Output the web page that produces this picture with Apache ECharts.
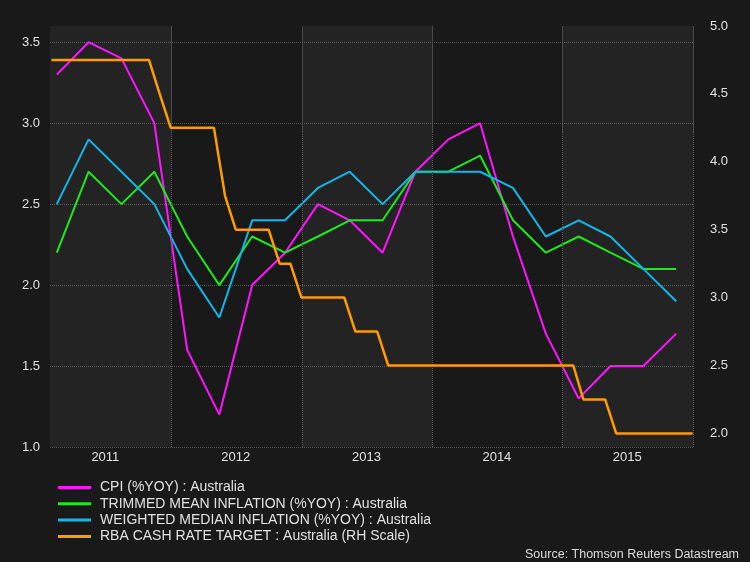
<!DOCTYPE html>
<html><head><meta charset="utf-8">
<script src="https://cdn.jsdelivr.net/npm/echarts@6/dist/echarts.min.js"></script>
<style>html,body{margin:0;padding:0;background:#191919}#c{width:750px;height:562px}</style>
</head><body><div id="c"></div>
<script>
const seriesNames = [
  'CPI (%YOY) : Australia',
  'TRIMMED MEAN INFLATION (%YOY) : Australia',
  'WEIGHTED MEDIAN INFLATION (%YOY) : Australia',
  'RBA CASH RATE TARGET : Australia (RH Scale)'
];
// quarterly series, plotted mid-quarter
const quarterDates = [
  '2011-02-15','2011-05-15','2011-08-15','2011-11-15',
  '2012-02-15','2012-05-15','2012-08-15','2012-11-15',
  '2013-02-15','2013-05-15','2013-08-15','2013-11-15',
  '2014-02-15','2014-05-15','2014-08-15','2014-11-15',
  '2015-02-15','2015-05-15','2015-08-15','2015-11-15'
];
const cpi            = [3.3,3.5,3.4,3.0, 1.6,1.2,2.0,2.2, 2.5,2.4,2.2,2.7, 2.9,3.0,2.3,1.7, 1.3,1.5,1.5,1.7];
const trimmedMean    = [2.2,2.7,2.5,2.7, 2.3,2.0,2.3,2.2, 2.3,2.4,2.4,2.7, 2.7,2.8,2.4,2.2, 2.3,2.2,2.1,2.1];
const weightedMedian = [2.5,2.9,2.7,2.5, 2.1,1.8,2.4,2.4, 2.6,2.7,2.5,2.7, 2.7,2.7,2.6,2.3, 2.4,2.3,2.1,1.9];
// monthly series, end-of-month values
const rateMonths = [
  '2011-01','2011-02','2011-03','2011-04','2011-05','2011-06','2011-07','2011-08','2011-09','2011-10','2011-11','2011-12',
  '2012-01','2012-02','2012-03','2012-04','2012-05','2012-06','2012-07','2012-08','2012-09','2012-10','2012-11','2012-12',
  '2013-01','2013-02','2013-03','2013-04','2013-05','2013-06','2013-07','2013-08','2013-09','2013-10','2013-11','2013-12',
  '2014-01','2014-02','2014-03','2014-04','2014-05','2014-06','2014-07','2014-08','2014-09','2014-10','2014-11','2014-12',
  '2015-01','2015-02','2015-03','2015-04','2015-05','2015-06','2015-07','2015-08','2015-09','2015-10','2015-11','2015-12'
];
const cashRate = [
  4.75,4.75,4.75,4.75,4.75,4.75,4.75,4.75,4.75,4.75,4.50,4.25,
  4.25,4.25,4.25,4.25,3.75,3.50,3.50,3.50,3.50,3.25,3.25,3.00,
  3.00,3.00,3.00,3.00,2.75,2.75,2.75,2.50,2.50,2.50,2.50,2.50,
  2.50,2.50,2.50,2.50,2.50,2.50,2.50,2.50,2.50,2.50,2.50,2.50,
  2.50,2.25,2.25,2.25,2.00,2.00,2.00,2.00,2.00,2.00,2.00,2.00
];
const yearLabels = ['2011','2012','2013','2014','2015'];
const rightTickLabels = ['2.0','2.5','3.0','3.5','4.0','4.5','5.0'];
const yearBoundaries = ['2012-01-01','2013-01-01','2014-01-01','2015-01-01','2016-01-01'];
const lightBands = [['2011-01-27','2012-01-01'],['2013-01-01','2014-01-01'],['2015-01-01','2016-01-01']];
const sourceText = 'Source: Thomson Reuters Datastream';

const utc = s => { const p = s.split('-').map(Number); return Date.UTC(p[0], p[1]-1, p[2]); };
const monthEnd = s => { const p = s.split('-').map(Number); return Date.UTC(p[0], p[1], 0); };
const xMin = utc('2011-01-27'), xMax = utc('2016-01-01');
const labelShift = utc('2011-07-01') - utc('2011-01-01');
const FONT = "'Liberation Sans', Arial, sans-serif";
const colors = ['#ff14ff','#1ee81e','#14b6e8','#ff9c00'];

const q = arr => quarterDates.map((d,i) => [utc(d), arr[i]]);

const chart = echarts.init(document.getElementById('c'), null, {renderer:'canvas'});
chart.setOption({
  backgroundColor: '#191919',
  animation: false,
  useUTC: true,
  color: colors,
  textStyle: {fontFamily: FONT},
  title: {
    text: sourceText, right: 6, top: 543,
    textStyle: {color:'#dcdcdc', fontSize: 12.5, fontWeight:'normal', fontFamily: FONT}
  },
  grid: {left: 50, right: 57, top: 26, bottom: 115},
  legend: {
    orient: 'vertical', left: 53, top: 474.5,
    icon: 'rect', itemWidth: 33, itemHeight: 3, itemGap: 0.3,
    data: seriesNames,
    textStyle: {color:'#e0e0e0', fontSize: 14, lineHeight: 16, padding:[0,0,0,4], fontFamily: FONT}
  },
  xAxis: [
    {type:'time', min:xMin, max:xMax, position:'bottom',
     axisLine:{show:false}, axisTick:{show:false}, axisLabel:{show:false}, splitLine:{show:false}},
    {type:'time', min:xMin - labelShift, max:xMax - labelShift, position:'bottom',
     axisLine:{show:false}, axisTick:{show:false}, splitLine:{show:false},
     axisLabel:{show:true, margin:4, color:'#e0e0e0', fontSize:13, fontFamily:FONT,
       showMinLabel:true, showMaxLabel:true,
       formatter: v => { const d = new Date(v);
         if (d.getUTCMonth()===0 && d.getUTCDate()===1 && d.getUTCHours()===0) {
           const y = String(d.getUTCFullYear()); return yearLabels.includes(y) ? y : ''; }
         return ''; }}}
  ],
  yAxis: [
    {type:'value', min:1.0, max:3.6, interval:0.5, position:'left',
     axisLine:{show:false}, axisTick:{show:false},
     axisLabel:{margin:10, color:'#e0e0e0', fontSize:13, fontFamily:FONT, showMaxLabel:false,
       formatter: v => v.toFixed(1)},
     splitLine:{show:true, showMaxLine:false, lineStyle:{color:'#565656', type:'dotted', width:1}}},
    {type:'value', min:1.9, max:5.0, interval:0.1, position:'right',
     axisLine:{show:false}, axisTick:{show:false}, splitLine:{show:false},
     axisLabel:{margin:17, color:'#e0e0e0', fontSize:13, fontFamily:FONT,
       formatter: v => { const s = (Math.round(v*10)/10).toFixed(1); return rightTickLabels.includes(s) ? s : ''; }}}
  ],
  series: [
    {name: seriesNames[0], type:'line', xAxisIndex:0, yAxisIndex:0, data:q(cpi), showSymbol:false,
     lineStyle:{width:2, color:colors[0]}, itemStyle:{color:colors[0]}, z:3,
     markArea:{silent:true, itemStyle:{color:'rgba(255,255,255,0.048)'},
       data: lightBands.map(b => [{xAxis: utc(b[0])}, {xAxis: utc(b[1])}])},
     markLine:{silent:true, symbol:['none','none'], label:{show:false},
       data: [
         ...yearBoundaries.map(d => ({xAxis: utc(d), lineStyle:{type:'dotted', color:'#5a5a5a', width:1}})),
         ...yearBoundaries.map(d => [
           {coord:[utc(d), 3.6], lineStyle:{type:'solid', color:'#4a4a4a', width:1}},
           {coord:[utc(d), 2.945], lineStyle:{type:'solid', color:'#4a4a4a', width:1}}])
       ]}},
    {name: seriesNames[1], type:'line', xAxisIndex:0, yAxisIndex:0, data:q(trimmedMean), showSymbol:false,
     lineStyle:{width:2, color:colors[1]}, itemStyle:{color:colors[1]}, z:4},
    {name: seriesNames[2], type:'line', xAxisIndex:0, yAxisIndex:0, data:q(weightedMedian), showSymbol:false,
     lineStyle:{width:2, color:colors[2]}, itemStyle:{color:colors[2]}, z:4},
    {name: seriesNames[3], type:'line', xAxisIndex:0, yAxisIndex:1,
     data: rateMonths.map((m,i) => [monthEnd(m), cashRate[i]]), showSymbol:false,
     lineStyle:{width:2.5, color:colors[3]}, itemStyle:{color:colors[3]}, z:5}
  ]
});
</script></body></html>
